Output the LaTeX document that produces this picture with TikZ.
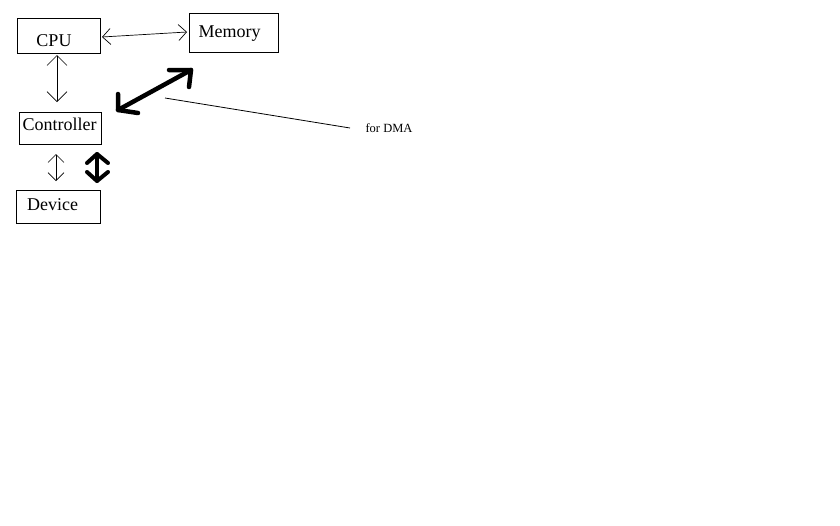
\documentclass[tikz,border=0pt]{standalone}
\usepackage{fontspec}
\setmainfont{Liberation Serif}
\usetikzlibrary{arrows.meta}
\begin{document}
\begin{tikzpicture}[x=1pt,y=-1pt,
  box/.style={draw,line width=0.8pt,inner sep=0pt,anchor=north west},
  lbl/.style={font=\fontsize{18}{20}\selectfont,anchor=base,inner sep=0pt},
  thin/.style={line width=0.7pt,{Straight Barb[length=8pt,width=16pt,line width=0.7pt]}-{Straight Barb[length=8pt,width=16pt,line width=0.7pt]}},
  thinv/.style={line width=0.7pt,{Straight Barb[length=10pt,width=20pt,line width=0.7pt]}-{Straight Barb[length=10pt,width=20pt,line width=0.7pt]}},
  thickv/.style={line width=4pt,line cap=round,line join=round},
  thickd/.style={line width=4.5pt,line cap=round,line join=round}]
\useasboundingbox[fill=white] (0,0) rectangle (840,525);
% boxes
\node[box,minimum width=83pt,minimum height=35pt] (cpu) at (17,18) {};
\node[box,minimum width=89pt,minimum height=39pt] (mem) at (189,13) {};
\node[box,minimum width=82pt,minimum height=32pt] (ctl) at (19,112) {};
\node[box,minimum width=84pt,minimum height=33pt] (dev) at (16,190) {};
% labels
\node[lbl] (cput) at (54,46) {CPU};
\node[lbl] (memt) at (229.5,37) {Memory};
\node[lbl] (ctlt) at (59.5,130) {Controller};
\node[lbl] (devt) at (52.5,210) {Device};
\node[font=\fontsize{12.5}{14}\selectfont,anchor=base,inner sep=0pt] (dma) at (389,132) {for DMA};
% coordinates
\coordinate (a1) at (102,37);
\coordinate (a2) at (187,32);
\coordinate (b1) at (57,55);
\coordinate (b2) at (57,102);
\coordinate (c1) at (56,154);
\coordinate (c2) at (56,181);
\coordinate (d1) at (97,154);
\coordinate (d2) at (97,181);
\coordinate (d1a) at (87,163);
\coordinate (d1b) at (108,163);
\coordinate (d2a) at (87,172);
\coordinate (d2b) at (108,172);
\coordinate (e1) at (118,110);
\coordinate (e2) at (191,70);
\coordinate (e1a) at (118,94);
\coordinate (e1b) at (138,113);
\coordinate (e2a) at (169,70);
\coordinate (e2b) at (189,87);
\coordinate (f1) at (165,98);
\coordinate (f2) at (350,128);
% connectors
\draw[thin] (a1) -- (a2);
\draw[thinv] (b1) -- (b2);
\draw[thin] (c1) -- (c2);
\draw[thickv] (d1) -- (d2);
\draw[thickv] (d1a) -- (d1) -- (d1b);
\draw[thickv] (d2a) -- (d2) -- (d2b);
\draw[thickd] (e1) -- (e2);
\draw[thickd] (e1a) -- (e1) -- (e1b);
\draw[thickd] (e2a) -- (e2) -- (e2b);
\draw[line width=0.8pt] (f1) -- (f2);
\end{tikzpicture}
\end{document}
